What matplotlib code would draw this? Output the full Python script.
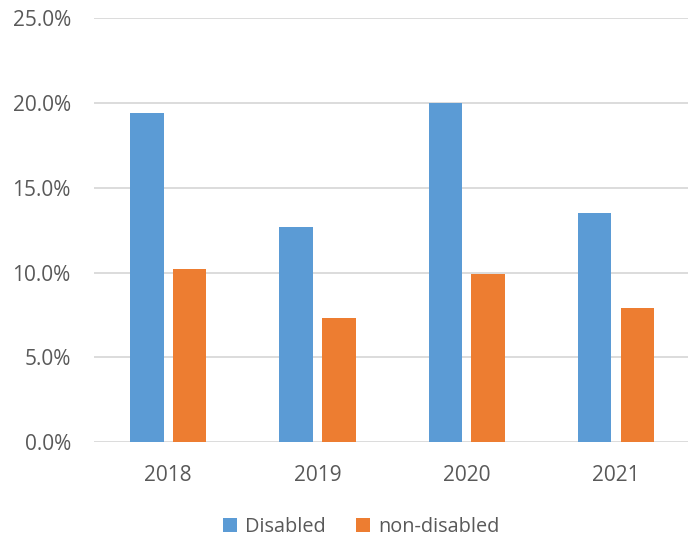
import numpy as np
import matplotlib
matplotlib.use("Agg")
import matplotlib.pyplot as plt
from matplotlib.ticker import FuncFormatter

# данные (доли в процентах)
years = ["2018", "2019", "2020", "2021"]
disabled = [19.4, 12.7, 20.0, 13.5]
non_disabled = [10.2, 7.3, 9.9, 7.9]

plt.rcParams["font.family"] = ["Open Sans", "DejaVu Sans"]

fig = plt.figure(figsize=(6.88, 5.36), dpi=100)
left, right = 93.7, 690.5
ax = fig.add_axes([left / 688, 1 - 442.3 / 536, (right - left) / 688, (442.3 - 18) / 536])

x = np.arange(len(years))
w = 0.224
off = 0.143
ax.bar(x - off, disabled, w, color="#5B9BD5", label="Disabled", zorder=3)
ax.bar(x + off, non_disabled, w, color="#ED7D31", label="non-disabled", zorder=3)

ax.set_ylim(0, 25)
ax.set_xlim(-0.5, len(years) - 0.5)
ax.set_yticks(np.arange(0, 26, 5))
ax.yaxis.set_major_formatter(FuncFormatter(lambda v, p: f"{v:.1f}%"))
ax.set_xticks(x)
ax.set_xticklabels(years)

ax.grid(axis="y", color="#D9D9D9", linewidth=1.3, zorder=0)
for s in ax.spines.values():
    s.set_visible(False)
ax.tick_params(axis="y", length=0, pad=16.5, labelsize=15, labelcolor="#595959")
ax.tick_params(axis="x", length=0, pad=16, labelsize=15, labelcolor="#595959")

fig.legend(loc="center", bbox_to_anchor=(361 / 688, 1 - 527 / 536), ncol=2, frameon=False,
           fontsize=14.3, labelcolor="#595959", handlelength=0.72, handleheight=0.72,
           handletextpad=0.4, columnspacing=1.5)

fig.savefig("out.png", dpi=100)
